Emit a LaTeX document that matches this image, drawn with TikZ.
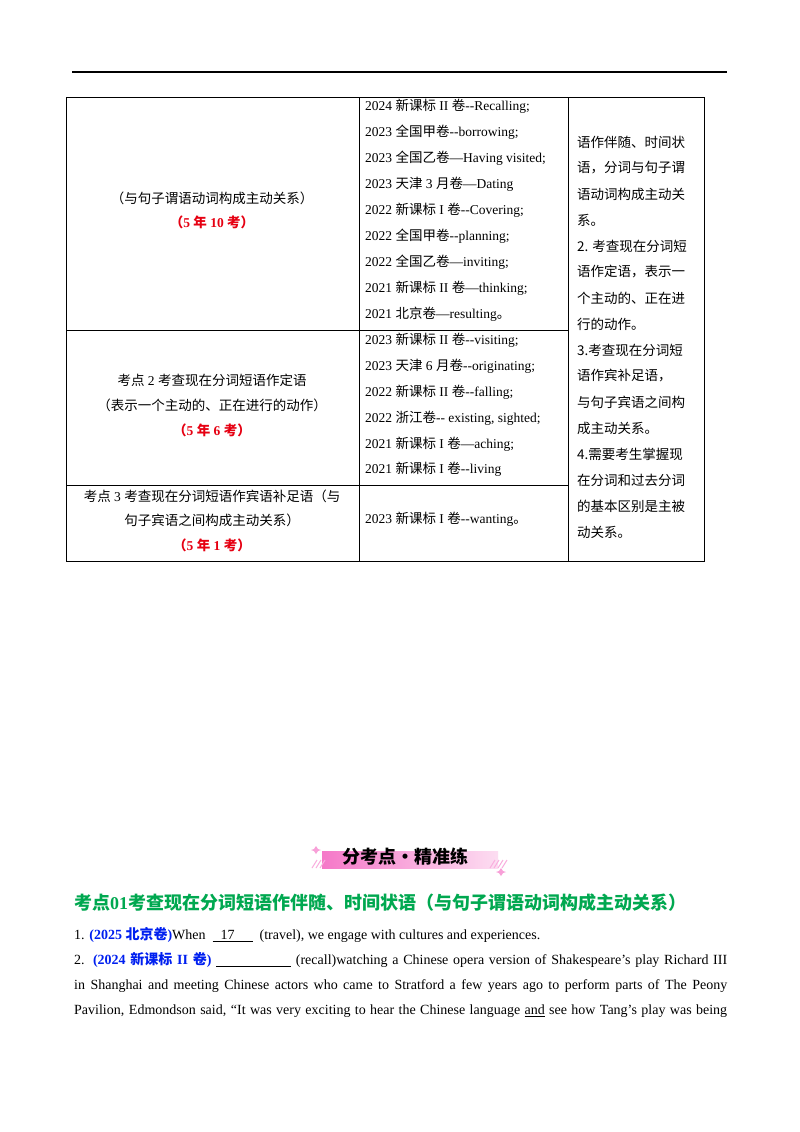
\documentclass[tikz,border=0pt]{standalone}
\usepackage{fontspec}
\setmainfont{Liberation Serif}
\newfontfamily\cjkf{Noto Sans CJK SC}
\newcommand{\cj}[1]{{\cjkf #1}}
\definecolor{redt}{RGB}{230,0,18}
\definecolor{greent}{RGB}{0,168,80}
\definecolor{bluet}{RGB}{0,32,240}
\definecolor{pinkb}{RGB}{245,120,200}
\begin{document}
\begin{tikzpicture}[x=1pt,y=-1pt,
 t/.style={anchor=west,inner sep=0pt,font=\fontsize{13.5}{16}\selectfont},
 c/.style={anchor=center,inner sep=0pt,font=\fontsize{13.5}{16}\selectfont},
 r/.style={c,text=redt,font=\fontsize{13.5}{16}\selectfont\bfseries},
 q/.style={anchor=west,inner sep=0pt,font=\fontsize{14}{16}\selectfont}]
\useasboundingbox[fill=white] (0,0) rectangle (800,1132);
\draw[line width=1.2pt] (72,72) -- (727,72);
% table
\draw[line width=0.6pt] (66,97) rectangle (704,561);
\draw[line width=0.6pt] (359,97) -- (359,561) (568,97) -- (568,561)
 (66,330) -- (568,330) (66,485) -- (568,485);
\node[c] (a1) at (212,198) {\cj{（与句子谓语动词构成主动关系）}};
\node[r] (a2) at (212,222) {\cj{（}5 \cj{年} 10 \cj{考）}};
\node[c] (b1) at (212,380) {\cj{考点} 2 \cj{考查现在分词短语作定语}};
\node[c] (b2) at (212,405) {\cj{（表示一个主动的、正在进行的动作）}};
\node[r] (b3) at (212,430) {\cj{（}5 \cj{年} 6 \cj{考）}};
\node[c] (c1) at (212,496) {\cj{考点} 3 \cj{考查现在分词短语作宾语补足语（与}};
\node[c] (c2) at (212,520) {\cj{句子宾语之间构成主动关系）}};
\node[r] (c3) at (212,545) {\cj{（}5 \cj{年} 1 \cj{考）}};
\foreach \y/\s in {106/{2024 \cj{新课标} II \cj{卷}-{}-Recalling;},
 132/{2023 \cj{全国甲卷}-{}-borrowing;},
 158/{2023 \cj{全国乙卷}—Having visited;},
 184/{2023 \cj{天津} 3 \cj{月卷}—Dating},
 210/{2022 \cj{新课标} I \cj{卷}-{}-Covering;},
 236/{2022 \cj{全国甲卷}-{}-planning;},
 262/{2022 \cj{全国乙卷}—inviting;},
 288/{2021 \cj{新课标} II \cj{卷}—thinking;},
 314/{2021 \cj{北京卷}—resulting\cj{。}},
 340/{2023 \cj{新课标} II \cj{卷}-{}-visiting;},
 366/{2023 \cj{天津} 6 \cj{月卷}-{}-originating;},
 392/{2022 \cj{新课标} II \cj{卷}-{}-falling;},
 418/{2022 \cj{浙江卷}-{}- existing, sighted;},
 444/{2021 \cj{新课标} I \cj{卷}—aching;},
 469/{2021 \cj{新课标} I \cj{卷}-{}-living},
 519/{2023 \cj{新课标} I \cj{卷}-{}-wanting\cj{。}}}
 \node[t] at (365,\y) {\s};
\foreach \y/\s in {142/{语作伴随、时间状},168/{语，分词与句子谓},194/{语动词构成主动关},220/{系。},
 246/{2. 考查现在分词短},272/{语作定语，表示一},298/{个主动的、正在进},324/{行的动作。},
 350/{3.考查现在分词短},376/{语作宾补足语，},402/{与句子宾语之间构},428/{成主动关系。},
 454/{4.需要考生掌握现},480/{在分词和过去分词},506/{的基本区别是主被},532/{动关系。}}
 \node[t] at (577,\y) {\cj{\s}};
% banner
\shade[left color=pinkb,right color=pinkb!25] (322,851) rectangle (498,868);
\foreach \x in {312,316,320,490,494,498,502} \draw[pinkb!60,line width=1pt] (\x,868) -- (\x+5,860);
\fill[pinkb!70] (316,846) -- (318,849) -- (321,850) -- (318,851) -- (316,854) -- (314,851) -- (311,850) -- (314,849) -- cycle;
\fill[pinkb!70] (501,868) -- (503,871) -- (506,872) -- (503,873) -- (501,876) -- (499,873) -- (496,872) -- (499,871) -- cycle;
\node[c,font=\fontsize{18}{20}\selectfont\cjkf\bfseries] (ban) at (405,857) {分考点·精准练};
\node[q,text=greent,font=\fontsize{18}{20}\selectfont\bfseries] (h) at (74,903) {\cj{考点}01\cj{考查现在分词短语作伴随、时间状语（与句子谓语动词构成主动关系）}};
\node[q] (q1) at (74,935) {1. \textcolor{bluet}{\bfseries (2025 \cj{北京卷})}When \ \underline{\hspace{8pt}17\hspace{18pt}} \ (travel), we engage with cultures and experiences.};
\node[q] (q2) at (74,960) {\makebox[653pt][s]{2. \textcolor{bluet}{\bfseries (2024 \cj{新课标} II \cj{卷})} \underline{\hspace{75pt}} (recall)watching a Chinese opera version of Shakespeare’s play Richard III}};
\node[q] (q3) at (74,986) {\makebox[653pt][s]{in Shanghai and meeting Chinese actors who came to Stratford a few years ago to perform parts of The Peony}};
\node[q] (q4) at (74,1011) {\makebox[653pt][s]{Pavilion, Edmondson said, “It was very exciting to hear the Chinese language \underline{and} see how Tang’s play was being}};
\end{tikzpicture}
\end{document}
